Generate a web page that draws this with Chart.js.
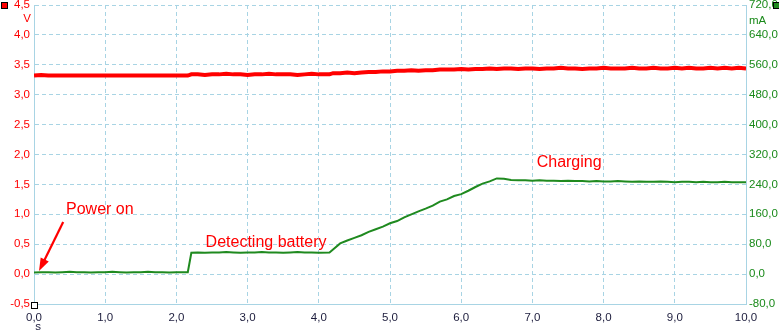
<!DOCTYPE html>
<html>
<head>
<meta charset="utf-8">
<script src="https://cdn.jsdelivr.net/npm/chart.js@4/dist/chart.umd.min.js"></script>
<style>
html,body{margin:0;padding:0;background:#fff;}
#wrap{width:779px;height:335px;}
</style>
</head>
<body>
<div id="wrap"><canvas id="c" width="779" height="335"></canvas></div>
<script>
// time in seconds
const timeS = [0.0,0.1,0.2,0.3,0.4,0.5,0.6,0.7,0.8,0.9,1.0,1.1,1.2,1.3,1.4,1.5,1.6,1.7,1.8,1.9,2.0,2.16,
  2.21,2.3,2.4,2.5,2.6,2.7,2.8,2.9,3.0,3.1,3.2,3.3,3.4,3.5,3.6,3.7,3.8,3.9,4.0,4.15,
  4.2,4.3,4.4,4.5,4.6,4.7,4.8,4.9,5.0,5.1,5.2,5.3,5.4,5.5,5.6,5.7,5.8,5.9,6.0,6.1,6.2,6.3,6.4,6.5,6.6,6.7,6.8,
  6.9,7.0,7.1,7.2,7.3,7.4,7.5,7.6,7.7,7.8,7.9,8.0,8.1,8.2,8.3,8.4,8.5,8.6,8.7,8.8,8.9,9.0,9.1,9.2,9.3,9.4,9.5,9.6,9.7,9.8,9.9,10.0];
// voltage (V)
const voltageV = [3.32,3.33,3.32,3.32,3.32,3.32,3.32,3.32,3.32,3.32,3.32,3.32,3.32,3.32,3.32,3.32,3.32,3.32,3.32,3.32,3.32,3.32,
  3.34,3.34,3.33,3.34,3.34,3.35,3.34,3.34,3.33,3.34,3.34,3.35,3.34,3.34,3.34,3.33,3.34,3.35,3.34,3.34,
  3.36,3.36,3.37,3.36,3.37,3.38,3.38,3.39,3.39,3.40,3.40,3.41,3.40,3.41,3.41,3.42,3.42,3.42,3.43,3.42,3.43,3.43,3.44,3.43,3.44,3.44,3.43,
  3.44,3.44,3.43,3.44,3.44,3.45,3.44,3.44,3.43,3.44,3.44,3.45,3.44,3.44,3.44,3.45,3.44,3.44,3.45,3.44,3.44,3.45,3.44,3.45,3.44,3.44,3.45,3.44,3.45,3.44,3.45,3.44];
// current (mA)
const currentMA = [4,5,5,4,5,6,5,5,4,5,5,6,5,4,5,5,6,5,5,4,5,5,
  57,58,57,58,58,59,58,57,58,58,59,58,58,57,58,59,58,58,57,58,
  66,82,90,97,104,113,120,127,136,142,152,160,168,175,183,194,200,209,214,223,233,242,248,256,255,252,251,
  251,250,251,250,250,249,250,249,249,248,249,248,248,249,248,247,248,247,247,248,247,246,247,247,246,247,246,246,247,246,246,246];
// axis tick values
const xTicks = [0,1,2,3,4,5,6,7,8,9,10];
const vTicks = [-0.5,0,0.5,1,1.5,2,2.5,3,3.5,4,4.5];
const mATicks = [-80,0,80,160,240,320,400,480,560,640,720];
// annotations (data units: seconds, volts)
const notes = [
  {text:'Power on', x:0.45, y:1.01},
  {text:'Detecting battery', x:2.41, y:0.455},
  {text:'Charging', x:7.06, y:1.79}
];

const fmt = v => Number(v).toFixed(1).replace('.', ',');
const GRID = '#a8d4e4';
const RED = '#ff0000';
const GREEN = '#1f8a1f';
const TICKFONT = {family:'"Liberation Sans", Arial, sans-serif', size:11.5};
const zeroPad = s => { s.paddingTop = 0; s.paddingBottom = 0; s.paddingLeft = 0; s.paddingRight = 0; };

const extras = {
  id:'extras',
  afterDraw(chart){
    const c = chart.ctx, x = chart.scales.x, y = chart.scales.y;
    c.save();
    // units
    c.font = '11.5px "Liberation Sans", Arial, sans-serif';
    c.textBaseline = 'middle';
    c.fillStyle = RED; c.textAlign = 'right';
    c.fillText('V', 31, 19);
    c.fillStyle = '#1a8a1a'; c.textAlign = 'left';
    c.fillText('mA', 749, 21);
    c.fillStyle = '#1c1c3c'; c.textAlign = 'center';
    c.fillText('s', 38, 327);
    // markers
    c.lineWidth = 1;
    c.fillStyle = RED; c.strokeStyle = '#000';
    c.fillRect(1.5,2.5,6,6); c.strokeRect(1.5,2.5,6,6);
    c.fillStyle = GREEN;
    c.fillRect(773.5,2.5,6,6); c.strokeRect(773.5,2.5,6,6);
    c.fillStyle = '#fff';
    c.fillRect(31.5,302.5,6,6); c.strokeRect(31.5,302.5,6,6);
    // annotations
    c.font = '16px "Liberation Sans", Arial, sans-serif';
    c.fillStyle = RED; c.textAlign = 'left'; c.textBaseline = 'alphabetic';
    notes.forEach(n => c.fillText(n.text, x.getPixelForValue(n.x), y.getPixelForValue(n.y)));
    // arrow for Power on
    const x0 = x.getPixelForValue(0.41), y0 = y.getPixelForValue(0.87);
    const x1 = x.getPixelForValue(0.07), y1 = y.getPixelForValue(0.05);
    const ang = Math.atan2(y1-y0, x1-x0);
    c.strokeStyle = RED; c.lineWidth = 2.2;
    c.beginPath(); c.moveTo(x0,y0);
    c.lineTo(x1 - 8*Math.cos(ang), y1 - 8*Math.sin(ang)); c.stroke();
    c.beginPath();
    c.moveTo(x1,y1);
    c.lineTo(x1 - 13*Math.cos(ang) + 4.5*Math.sin(ang), y1 - 13*Math.sin(ang) - 4.5*Math.cos(ang));
    c.lineTo(x1 - 13*Math.cos(ang) - 4.5*Math.sin(ang), y1 - 13*Math.sin(ang) + 4.5*Math.cos(ang));
    c.closePath(); c.fill();
    c.restore();
  }
};

new Chart(document.getElementById('c'), {
  type:'line',
  data:{
    datasets:[
      {label:'V', data: timeS.map((t,i)=>({x:t, y:voltageV[i]})), yAxisID:'y',
       borderColor:RED, borderWidth:4, pointRadius:0, tension:0},
      {label:'mA', data: timeS.map((t,i)=>({x:t, y:currentMA[i]})), yAxisID:'y2',
       borderColor:GREEN, borderWidth:2, pointRadius:0, tension:0}
    ]
  },
  options:{
    responsive:false, animation:false,
    layout:{padding:{top:5,left:0,right:0,bottom:0}},
    plugins:{legend:{display:false}, tooltip:{enabled:false}},
    scales:{
      x:{type:'linear', min:0, max:10,
        afterBuildTicks: s => { s.ticks = xTicks.map(v=>({value:v})); },
        afterFit: s => { s.height = 31; zeroPad(s); },
        grid:{color:GRID, drawTicks:false, lineWidth:1},
        border:{color:GRID, dash:[4,3]},
        ticks:{padding:7, color:'#1c1c3c', font:TICKFONT, autoSkip:false, maxRotation:0, callback:v=>fmt(v)}
      },
      y:{type:'linear', position:'left', min:-0.5, max:4.5,
        afterBuildTicks: s => { s.ticks = vTicks.map(v=>({value:v})); },
        afterFit: s => { s.width = 34; zeroPad(s); },
        grid:{color:GRID, drawTicks:false, lineWidth:1},
        border:{color:GRID, dash:[4,3]},
        ticks:{padding:4, color:RED, font:TICKFONT, autoSkip:false, callback:v=>fmt(v)}
      },
      y2:{type:'linear', position:'right', min:-80, max:720,
        afterBuildTicks: s => { s.ticks = mATicks.map(v=>({value:v})); },
        afterFit: s => { s.width = 33; zeroPad(s); },
        grid:{display:false, drawTicks:false},
        border:{color:GRID, dash:[4,3]},
        ticks:{padding:3, color:'#1a8a1a', font:TICKFONT, autoSkip:false, callback:v=>fmt(v)}
      }
    }
  },
  plugins:[extras]
});
</script>
</body>
</html>
